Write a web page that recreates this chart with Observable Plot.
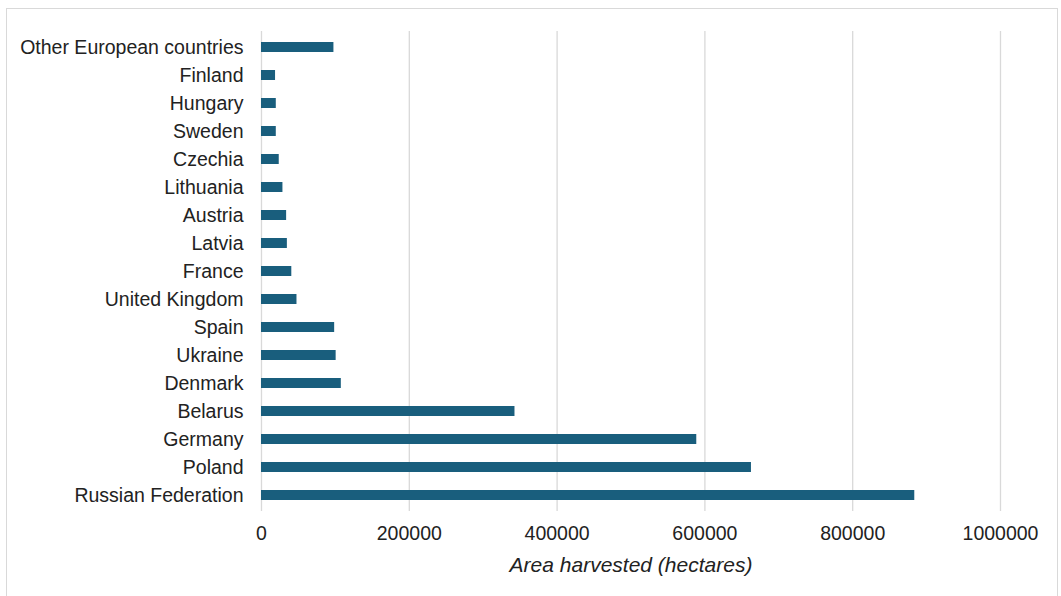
<!DOCTYPE html>
<html>
<head>
<meta charset="utf-8">
<script src="https://cdn.jsdelivr.net/npm/d3@7"></script>
<script src="https://cdn.jsdelivr.net/npm/@observablehq/plot@0.6"></script>
<style>
  html, body { margin: 0; padding: 0; background: #fff; }
  #wrap { position: relative; width: 1061px; height: 596px; overflow: hidden; }
  #frame { position: absolute; left: 6px; top: 8px; width: 1052px; height: 600px;
           border: 1.5px solid #d9d9d9; box-sizing: border-box; pointer-events: none; z-index: 2; }
</style>
</head>
<body>
<div id="wrap"><div id="frame"></div></div>
<script>
const countries = [
  "Other European countries", "Finland", "Hungary", "Sweden", "Czechia", "Lithuania",
  "Austria", "Latvia", "France", "United Kingdom", "Spain", "Ukraine", "Denmark",
  "Belarus", "Germany", "Poland", "Russian Federation"
];
const areas = [
  98000, 19000, 20000, 20000, 24000, 29000,
  34000, 35000, 41000, 48000, 99000, 101000, 108000,
  343000, 589000, 663000, 884000
];
const xTicks = [0, 200000, 400000, 600000, 800000, 1000000];
const xLabel = "Area harvested (hectares)";

const data = countries.map((c, i) => ({country: c, value: areas[i]}));

const chart = Plot.plot({
  width: 1061,
  height: 596,
  marginLeft: 261,
  marginRight: 61,
  marginTop: 31,
  marginBottom: 85,
  style: {fontFamily: "'Liberation Sans', Arial, sans-serif", color: "#222", background: "transparent"},
  x: {domain: [0, 1000000], ticks: xTicks},
  y: {domain: countries, paddingInner: 0.644, paddingOuter: 0.32},
  marks: [
    Plot.gridX(xTicks, {stroke: "#d9d9d9", strokeOpacity: 1, strokeWidth: 1.3}),
    Plot.barX(data, {x: "value", y: "country", fill: "#195e7d"}),
    Plot.axisY({tickSize: 0, tickPadding: 18, fontSize: 19.5, label: null}),
    Plot.axisX(xTicks, {tickSize: 0, tickPadding: 15, fontSize: 19.5, label: null, tickFormat: d => String(d)}),
    Plot.text([xLabel], {frameAnchor: "bottom", dy: 54, fontStyle: "italic", fontSize: 21, lineAnchor: "middle", fill: "#222"})
  ]
});
document.getElementById("wrap").appendChild(chart);
</script>
</body>
</html>
